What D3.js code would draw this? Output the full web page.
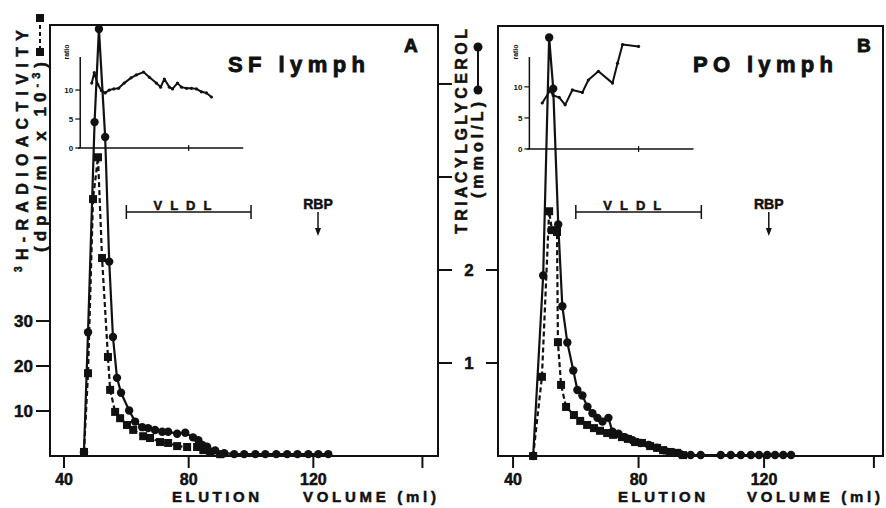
<!DOCTYPE html>
<html lang="en">
<head>
<meta charset="UTF-8">
<script src="https://d3js.org/d3.v7.min.js"></script>
<title>Elution profiles</title>
<style>
  body { margin: 0; background: #fff; }
  text { font-family: "Liberation Sans", Arial, sans-serif; font-weight: bold; fill: #111;
         stroke: #111; stroke-width: 0.5px; }
  text.thin { stroke-width: 0; }
</style>
</head>
<body>
<svg id="chart" width="886" height="508"></svg>
<script>
// ---- data (elution volume in ml) ----
// Panel A, SF lymph: triacylglycerol (mmol/L), circles, solid line
var tgA_ml = [46.4, 47.7, 49.8, 51.2, 53.2, 54.5, 55.7, 57.0, 58.3, 60.9, 62.8, 65.1, 67.0, 69.2, 71.5, 73.4, 76.3, 78.9, 81.4, 83.1, 84.3, 85.9, 88.5, 91.4, 94.6, 97.8, 101.4, 104.6, 108.1, 111.6, 114.9, 118.4, 121.6, 124.8];
var tgA = [0.04, 1.33, 3.59, 4.59, 3.43, 2.09, 1.28, 0.84, 0.68, 0.49, 0.37, 0.31, 0.30, 0.28, 0.26, 0.26, 0.24, 0.25, 0.20, 0.17, 0.12, 0.10, 0.06, 0.03, 0.02, 0.02, 0.02, 0.02, 0.02, 0.02, 0.02, 0.02, 0.02, 0.02];
// Panel A: 3H-radioactivity (dpm/ml x 10-3), squares, dashed line
var radA_ml = [46.4, 47.7, 49.3, 50.9, 52.2, 54.1, 54.8, 56.4, 58.0, 60.2, 62.2, 65.4, 67.6, 70.8, 73.4, 76.3, 79.5, 82.7, 84.7, 86.9, 90.1];
var radA = [0.9, 18.4, 57.1, 66.4, 44.0, 22.0, 14.7, 9.8, 8.4, 6.9, 5.8, 4.4, 4.0, 3.1, 2.9, 2.2, 2.0, 2.0, 1.3, 0.9, 0.4];
// Panel A inset: ratio
var ratioA_ml = [48.9, 49.7, 50.8, 52.0, 53.2, 54.5, 56.0, 57.5, 59.3, 61.5, 63.2, 65.5, 67.4, 69.6, 71.0, 72.2, 73.8, 74.8, 76.4, 77.7, 79.3, 80.9, 82.5, 84.1, 85.7, 87.3];
var ratioA = [11.2, 13.0, 11.0, 9.9, 9.5, 10.0, 10.2, 10.3, 11.2, 12.1, 12.6, 13.1, 12.2, 11.2, 10.5, 11.9, 10.5, 10.2, 11.2, 10.5, 10.3, 10.3, 10.2, 9.7, 9.5, 8.8];

// Panel B, PO lymph
var tgB_ml = [46.4, 49.6, 51.5, 52.8, 54.4, 55.7, 57.3, 59.2, 60.5, 62.1, 63.7, 65.3, 66.9, 68.5, 70.4, 71.7, 73.6, 75.8, 78.1, 80.6, 83.2, 85.8, 88.3, 90.9, 93.4, 96.6, 99.8, 106.2, 109.4, 112.6, 115.8, 118.4, 121.0, 123.5, 126.1, 128.6];
var tgB = [0.0, 1.94, 4.50, 3.95, 2.49, 1.61, 1.22, 0.92, 0.71, 0.65, 0.53, 0.46, 0.41, 0.37, 0.41, 0.26, 0.24, 0.20, 0.17, 0.14, 0.12, 0.09, 0.06, 0.04, 0.02, 0.01, 0.01, 0.01, 0.01, 0.01, 0.01, 0.01, 0.01, 0.01, 0.01, 0.01];
var radB_ml = [46.4, 49.2, 51.5, 52.4, 54.0, 54.3, 55.3, 56.9, 59.4, 61.4, 63.6, 65.8, 67.7, 70.0, 71.9, 74.7, 76.6, 78.9, 81.1, 83.7, 85.9, 87.8, 90.0, 92.3, 94.2];
var radB = [0, 17.6, 54.4, 50.2, 49.8, 25.3, 15.8, 10.9, 9.1, 7.8, 6.9, 6.2, 5.6, 5.1, 4.7, 4.2, 3.8, 3.1, 2.9, 2.2, 1.8, 1.3, 0.9, 0.7, 0.2];
var ratioB_ml = [49.3, 51.8, 52.8, 54.7, 56.6, 58.9, 62.1, 64.0, 67.2, 71.7, 73.3, 74.9, 80.0];
var ratioB = [7.4, 9.4, 8.6, 8.3, 7.1, 9.5, 9.1, 11.1, 12.5, 10.6, 13.8, 16.8, 16.5];

// ticks and labels
var xTicks = [40, 80, 120, 155];
var xTickLabels = ["40", "80", "120", ""];
var radTicks = [10, 20, 30];
var tgTicks = [1, 2, 3, 4];
var tgTickLabels = ["1", "2", "", ""];
var ratioTicks = [0, 5, 10];
var vldlRange = [60, 100];
var rbpAt = 121.5;

// ---- layout ----
var svg = d3.select("#chart");
svg.append("rect").attr("width", 886).attr("height", 508).attr("fill", "#fff");

var ink = "#111";
var y0 = 456;
var yRad = d3.scaleLinear().domain([0, 95.8]).range([y0, 25]);
var yTg = d3.scaleLinear().domain([0, 4.634]).range([y0, 25]);

var panels = [
  { letter: "A", title: "SF lymph", left: 50, right: 438, top: 25, xDomain: [35.5, 160],
    tg: d3.zip(tgA_ml, tgA), rad: d3.zip(radA_ml, radA), ratio: d3.zip(ratioA_ml, ratioA),
    ratioTop: 15.7, ratioBase: 148, titleX: 228, titleLen: 137, letterX: 404,
    elutionX: 172, volumeX: 303 },
  { letter: "B", title: "PO lymph", left: 498, right: 883, top: 26, xDomain: [35.2, 157.9],
    tg: d3.zip(tgB_ml, tgB), rad: d3.zip(radB_ml, radB), ratio: d3.zip(ratioB_ml, ratioB),
    ratioTop: 14.8, ratioBase: 149, titleX: 693, titleLen: 140, letterX: 857,
    elutionX: 618, volumeX: 747 }
];

panels.forEach(function (p) {
  var x = d3.scaleLinear().domain(p.xDomain).range([p.left, p.right]);
  var g = svg.append("g");

  // frame
  g.append("rect")
    .attr("x", p.left).attr("y", p.top)
    .attr("width", p.right - p.left).attr("height", y0 - p.top)
    .attr("fill", "none").attr("stroke", ink).attr("stroke-width", 2);

  // x axis ticks
  g.selectAll(".xt").data(xTicks).enter().append("line")
    .attr("x1", function (d) { return x(d); }).attr("x2", function (d) { return x(d); })
    .attr("y1", y0).attr("y2", y0 + 12)
    .attr("stroke", ink).attr("stroke-width", 2);
  g.selectAll(".xl").data(xTicks).enter().append("text")
    .attr("x", function (d) { return x(d); }).attr("y", 485)
    .attr("text-anchor", "middle").attr("font-size", 16)
    .text(function (d, i) { return xTickLabels[i]; });
  g.append("text").attr("x", p.elutionX).attr("y", 502).attr("font-size", 15)
    .attr("textLength", 87).attr("lengthAdjust", "spacing").text("ELUTION");
  g.append("text").attr("x", p.volumeX).attr("y", 502).attr("font-size", 15)
    .attr("textLength", 133).attr("lengthAdjust", "spacing").text("VOLUME (ml)");

  // inset with ratio
  var yRatio = d3.scaleLinear().domain([0, p.ratioTop]).range([p.ratioBase, 57]);
  g.append("line").attr("x1", x(45.2)).attr("x2", x(45.2))
    .attr("y1", yRatio(0)).attr("y2", yRatio(p.ratioTop))
    .attr("stroke", ink).attr("stroke-width", 1.5);
  g.append("line").attr("x1", x(44.5)).attr("x2", x(97.5))
    .attr("y1", yRatio(0)).attr("y2", yRatio(0))
    .attr("stroke", ink).attr("stroke-width", 1.5);
  g.append("line").attr("x1", x(80)).attr("x2", x(80))
    .attr("y1", yRatio(0) - 3).attr("y2", yRatio(0) + 3)
    .attr("stroke", ink).attr("stroke-width", 1.2);
  g.selectAll(".rt").data(ratioTicks).enter().append("line")
    .attr("x1", x(45.2) - 5).attr("x2", x(45.2))
    .attr("y1", function (d) { return yRatio(d); }).attr("y2", function (d) { return yRatio(d); })
    .attr("stroke", ink).attr("stroke-width", 1.2);
  g.selectAll(".rl").data(ratioTicks).enter().append("text")
    .attr("class", "thin")
    .attr("x", x(45.2) - 7).attr("y", function (d) { return yRatio(d) + 3; })
    .attr("text-anchor", "end").attr("font-size", 8)
    .text(function (d) { return d; });
  g.append("text").attr("class", "thin").attr("font-size", 7)
    .attr("transform", "translate(" + (x(45.2) - 11) + "," + 52 + ") rotate(-90)")
    .attr("text-anchor", "middle").text("ratio");
  g.append("path").datum(p.ratio)
    .attr("fill", "none").attr("stroke", ink).attr("stroke-width", 2)
    .attr("stroke-linejoin", "round")
    .attr("d", d3.line().x(function (d) { return x(d[0]); }).y(function (d) { return yRatio(d[1]); }));
  g.selectAll(".rp").data(p.ratio).enter().append("circle")
    .attr("cx", function (d) { return x(d[0]); }).attr("cy", function (d) { return yRatio(d[1]); })
    .attr("r", 1.6).attr("fill", ink);

  // radioactivity: dashed with squares
  g.append("path").datum(p.rad)
    .attr("fill", "none").attr("stroke", ink).attr("stroke-width", 2.2)
    .attr("stroke-dasharray", "5,3")
    .attr("d", d3.line().x(function (d) { return x(d[0]); }).y(function (d) { return yRad(d[1]); }));
  g.selectAll(".sq").data(p.rad).enter().append("rect")
    .attr("x", function (d) { return x(d[0]) - 4; }).attr("y", function (d) { return yRad(d[1]) - 4; })
    .attr("width", 8).attr("height", 8).attr("fill", ink);

  // triacylglycerol: solid with circles
  g.append("path").datum(p.tg)
    .attr("fill", "none").attr("stroke", ink).attr("stroke-width", 2.2)
    .attr("d", d3.line().x(function (d) { return x(d[0]); }).y(function (d) { return yTg(d[1]); }));
  g.selectAll(".ci").data(p.tg).enter().append("circle")
    .attr("cx", function (d) { return x(d[0]); }).attr("cy", function (d) { return yTg(d[1]); })
    .attr("r", 4.2).attr("fill", ink);

  // VLDL bracket and RBP arrow
  g.append("line").attr("x1", x(vldlRange[0])).attr("x2", x(vldlRange[1]))
    .attr("y1", 212).attr("y2", 212).attr("stroke", ink).attr("stroke-width", 1.5);
  g.selectAll(".vb").data(vldlRange).enter().append("line")
    .attr("x1", function (d) { return x(d); }).attr("x2", function (d) { return x(d); })
    .attr("y1", 205).attr("y2", 219).attr("stroke", ink).attr("stroke-width", 1.5);
  g.append("text").attr("x", x(78)).attr("y", 210).attr("text-anchor", "middle")
    .attr("font-size", 13).attr("textLength", 58).attr("lengthAdjust", "spacing").text("VLDL");
  g.append("text").attr("x", x(rbpAt)).attr("y", 209).attr("text-anchor", "middle")
    .attr("font-size", 14).text("RBP");
  g.append("line").attr("x1", x(rbpAt)).attr("x2", x(rbpAt))
    .attr("y1", 212).attr("y2", 230).attr("stroke", ink).attr("stroke-width", 1.5);
  g.append("path")
    .attr("d", "M" + (x(rbpAt) - 3) + ",228L" + (x(rbpAt) + 3) + ",228L" + x(rbpAt) + ",236Z")
    .attr("fill", ink);

  // titles
  g.append("text").attr("x", p.titleX).attr("y", 72).attr("font-size", 22)
    .style("stroke-width", "0.9px")
    .attr("textLength", p.titleLen).attr("lengthAdjust", "spacing").text(p.title);
  g.append("text").attr("x", p.letterX).attr("y", 52).attr("font-size", 19)
    .style("stroke-width", "0.9px").text(p.letter);
});

// ---- left axis (radioactivity) ----
var pA = panels[0];
svg.selectAll(".lt").data(radTicks).enter().append("line")
  .attr("x1", pA.left - 14).attr("x2", pA.left)
  .attr("y1", function (d) { return yRad(d); }).attr("y2", function (d) { return yRad(d); })
  .attr("stroke", ink).attr("stroke-width", 2);
svg.selectAll(".ll").data(radTicks).enter().append("text")
  .attr("x", 33).attr("y", function (d) { return yRad(d) + 6; })
  .attr("text-anchor", "end").attr("font-size", 17)
  .text(function (d) { return d; });

var lt1 = svg.append("text").attr("transform", "translate(28,272) rotate(-90)")
  .attr("font-size", 16).attr("textLength", 242).attr("lengthAdjust", "spacing");
lt1.append("tspan").attr("font-size", 10).attr("dy", -6).text("3");
lt1.append("tspan").attr("dy", 6).text("H-RADIOACTIVITY");
var lt2 = svg.append("text").attr("transform", "translate(46,252) rotate(-90)")
  .attr("font-size", 17).attr("textLength", 190).attr("lengthAdjust", "spacing");
lt2.append("tspan").text("(dpm/ml x 10");
lt2.append("tspan").attr("font-size", 11).attr("dy", -6).text("-3");
lt2.append("tspan").attr("dy", 6).text(")");

// legend for the dashed series
svg.append("line").attr("x1", 40).attr("x2", 40).attr("y1", 18).attr("y2", 52)
  .attr("stroke", ink).attr("stroke-width", 2).attr("stroke-dasharray", "4,3");
svg.selectAll(".lg").data([18, 52]).enter().append("rect")
  .attr("x", 36).attr("y", function (d) { return d - 4; })
  .attr("width", 8).attr("height", 8).attr("fill", ink);

// ---- middle axis (triacylglycerol) ----
var pB = panels[1];
svg.selectAll(".mt").data(tgTicks).enter().append("line")
  .attr("x1", pA.right).attr("x2", pA.right + 14)
  .attr("y1", function (d) { return yTg(d); }).attr("y2", function (d) { return yTg(d); })
  .attr("stroke", ink).attr("stroke-width", 2);
svg.selectAll(".mt2").data([1, 2]).enter().append("line")
  .attr("x1", pB.left - 12).attr("x2", pB.left)
  .attr("y1", function (d) { return yTg(d); }).attr("y2", function (d) { return yTg(d); })
  .attr("stroke", ink).attr("stroke-width", 2);
svg.selectAll(".ml").data(tgTicks).enter().append("text")
  .attr("x", 469).attr("y", function (d) { return yTg(d) + 6; })
  .attr("text-anchor", "middle").attr("font-size", 17)
  .text(function (d, i) { return tgTickLabels[i]; });

svg.append("text").attr("transform", "translate(467,234) rotate(-90)")
  .attr("font-size", 16).attr("textLength", 205).attr("lengthAdjust", "spacing")
  .text("TRIACYLGLYCEROL");
svg.append("text").attr("transform", "translate(483,198) rotate(-90)")
  .attr("font-size", 16).attr("textLength", 96).attr("lengthAdjust", "spacing")
  .text("(mmol/L)");
svg.append("line").attr("x1", 478).attr("x2", 478).attr("y1", 47).attr("y2", 90)
  .attr("stroke", ink).attr("stroke-width", 2);
svg.selectAll(".lc").data([47, 90]).enter().append("circle")
  .attr("cx", 478).attr("cy", function (d) { return d; }).attr("r", 4.5).attr("fill", ink);
</script>
</body>
</html>
